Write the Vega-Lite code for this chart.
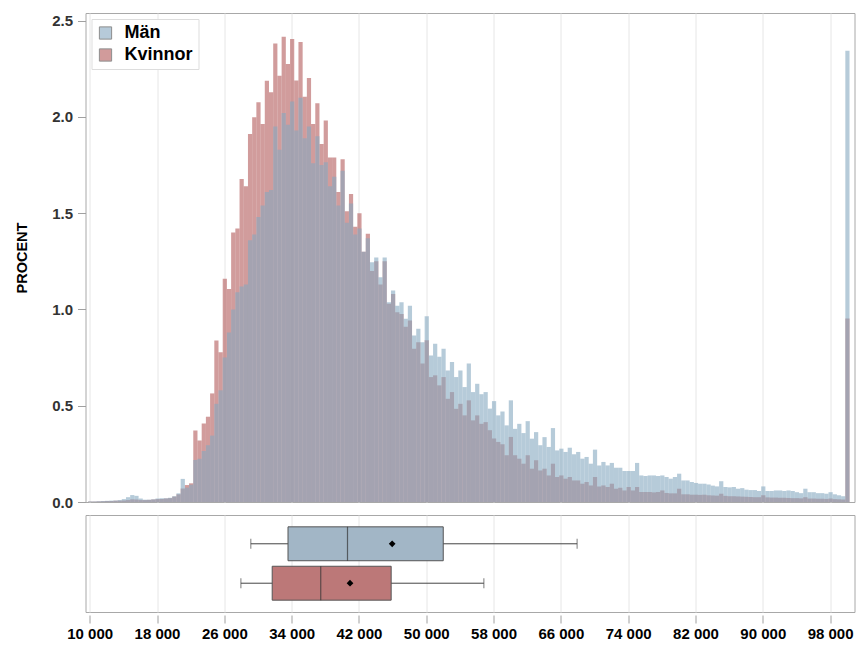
{
  "$schema": "https://vega.github.io/schema/vega-lite/v6.json",
  "padding": {"left": 13.5, "top": 12, "right": 2, "bottom": 2},
  "background": "white",
  "config": {
    "font": "Liberation Sans",
    "view": {"stroke": "#A8A8A8", "strokeWidth": 1},
    "axis": {"labelFont": "Liberation Sans", "labelFontWeight": "bold", "labelFontSize": 15, "labelColor": "#333333", "titleFont": "Liberation Sans", "titleFontWeight": "bold", "titleFontSize": 14.5, "titleColor": "#000000", "gridColor": "#E6E6E6", "tickColor": "#A0A0A0", "domainColor": "#A0A0A0"}
  },
  "spacing": 3,
  "vconcat": [
    {
      "width": 769,
      "height": 489,
      "data": {"values": [
        {"start": 9750, "Män": 0.003, "Kvinnor": 0.002},
        {"start": 10250, "Män": 0.003, "Kvinnor": 0.002},
        {"start": 10750, "Män": 0.004, "Kvinnor": 0.003},
        {"start": 11250, "Män": 0.005, "Kvinnor": 0.004},
        {"start": 11750, "Män": 0.006, "Kvinnor": 0.005},
        {"start": 12250, "Män": 0.007, "Kvinnor": 0.005},
        {"start": 12750, "Män": 0.008, "Kvinnor": 0.006},
        {"start": 13250, "Män": 0.010, "Kvinnor": 0.007},
        {"start": 13750, "Män": 0.015, "Kvinnor": 0.008},
        {"start": 14250, "Män": 0.025, "Kvinnor": 0.010},
        {"start": 14750, "Män": 0.036, "Kvinnor": 0.014},
        {"start": 15250, "Män": 0.032, "Kvinnor": 0.013},
        {"start": 15750, "Män": 0.018, "Kvinnor": 0.010},
        {"start": 16250, "Män": 0.012, "Kvinnor": 0.010},
        {"start": 16750, "Män": 0.012, "Kvinnor": 0.011},
        {"start": 17250, "Män": 0.014, "Kvinnor": 0.013},
        {"start": 17750, "Män": 0.018, "Kvinnor": 0.015},
        {"start": 18250, "Män": 0.020, "Kvinnor": 0.016},
        {"start": 18750, "Män": 0.020, "Kvinnor": 0.018},
        {"start": 19250, "Män": 0.022, "Kvinnor": 0.020},
        {"start": 19750, "Män": 0.030, "Kvinnor": 0.028},
        {"start": 20250, "Män": 0.045, "Kvinnor": 0.040},
        {"start": 20750, "Män": 0.120, "Kvinnor": 0.070},
        {"start": 21250, "Män": 0.075, "Kvinnor": 0.088},
        {"start": 21750, "Män": 0.090, "Kvinnor": 0.097},
        {"start": 22250, "Män": 0.218, "Kvinnor": 0.372},
        {"start": 22750, "Män": 0.225, "Kvinnor": 0.320},
        {"start": 23250, "Män": 0.265, "Kvinnor": 0.408},
        {"start": 23750, "Män": 0.295, "Kvinnor": 0.443},
        {"start": 24250, "Män": 0.345, "Kvinnor": 0.564},
        {"start": 24750, "Män": 0.510, "Kvinnor": 0.839},
        {"start": 25250, "Män": 0.580, "Kvinnor": 0.778},
        {"start": 25750, "Män": 0.750, "Kvinnor": 1.159},
        {"start": 26250, "Män": 0.880, "Kvinnor": 1.107},
        {"start": 26750, "Män": 1.000, "Kvinnor": 1.400},
        {"start": 27250, "Män": 1.090, "Kvinnor": 1.420},
        {"start": 27750, "Män": 1.120, "Kvinnor": 1.678},
        {"start": 28250, "Män": 1.130, "Kvinnor": 1.640},
        {"start": 28750, "Män": 1.360, "Kvinnor": 1.911},
        {"start": 29250, "Män": 1.390, "Kvinnor": 1.998},
        {"start": 29750, "Män": 1.480, "Kvinnor": 2.076},
        {"start": 30250, "Män": 1.540, "Kvinnor": 1.963},
        {"start": 30750, "Män": 1.610, "Kvinnor": 2.188},
        {"start": 31250, "Män": 1.620, "Kvinnor": 2.128},
        {"start": 31750, "Män": 1.950, "Kvinnor": 2.382},
        {"start": 32250, "Män": 1.830, "Kvinnor": 2.214},
        {"start": 32750, "Män": 2.020, "Kvinnor": 2.417},
        {"start": 33250, "Män": 1.960, "Kvinnor": 2.275},
        {"start": 33750, "Män": 2.080, "Kvinnor": 2.405},
        {"start": 34250, "Män": 1.930, "Kvinnor": 2.190},
        {"start": 34750, "Män": 2.100, "Kvinnor": 2.390},
        {"start": 35250, "Män": 1.890, "Kvinnor": 2.105},
        {"start": 35750, "Män": 1.950, "Kvinnor": 2.203},
        {"start": 36250, "Män": 1.760, "Kvinnor": 1.964},
        {"start": 36750, "Män": 1.900, "Kvinnor": 2.071},
        {"start": 37250, "Män": 1.750, "Kvinnor": 1.860},
        {"start": 37750, "Män": 1.765, "Kvinnor": 1.981},
        {"start": 38250, "Män": 1.640, "Kvinnor": 1.790},
        {"start": 38750, "Män": 1.690, "Kvinnor": 1.790},
        {"start": 39250, "Män": 1.540, "Kvinnor": 1.610},
        {"start": 39750, "Män": 1.720, "Kvinnor": 1.780},
        {"start": 40250, "Män": 1.450, "Kvinnor": 1.510},
        {"start": 40750, "Män": 1.550, "Kvinnor": 1.600},
        {"start": 41250, "Män": 1.390, "Kvinnor": 1.430},
        {"start": 41750, "Män": 1.420, "Kvinnor": 1.500},
        {"start": 42250, "Män": 1.300, "Kvinnor": 1.300},
        {"start": 42750, "Män": 1.370, "Kvinnor": 1.393},
        {"start": 43250, "Män": 1.245, "Kvinnor": 1.200},
        {"start": 43750, "Män": 1.270, "Kvinnor": 1.250},
        {"start": 44250, "Män": 1.168, "Kvinnor": 1.130},
        {"start": 44750, "Män": 1.270, "Kvinnor": 1.250},
        {"start": 45250, "Män": 1.038, "Kvinnor": 1.030},
        {"start": 45750, "Män": 1.099, "Kvinnor": 1.080},
        {"start": 46250, "Män": 1.020, "Kvinnor": 0.986},
        {"start": 46750, "Män": 1.038, "Kvinnor": 0.977},
        {"start": 47250, "Män": 0.952, "Kvinnor": 0.910},
        {"start": 47750, "Män": 1.020, "Kvinnor": 0.943},
        {"start": 48250, "Män": 0.865, "Kvinnor": 0.796},
        {"start": 48750, "Män": 0.900, "Kvinnor": 0.830},
        {"start": 49250, "Män": 0.830, "Kvinnor": 0.720},
        {"start": 49750, "Män": 0.965, "Kvinnor": 0.840},
        {"start": 50250, "Män": 0.761, "Kvinnor": 0.649},
        {"start": 50750, "Män": 0.822, "Kvinnor": 0.658},
        {"start": 51250, "Män": 0.754, "Kvinnor": 0.606},
        {"start": 51750, "Män": 0.796, "Kvinnor": 0.649},
        {"start": 52250, "Män": 0.683, "Kvinnor": 0.536},
        {"start": 52750, "Män": 0.727, "Kvinnor": 0.571},
        {"start": 53250, "Män": 0.649, "Kvinnor": 0.484},
        {"start": 53750, "Män": 0.683, "Kvinnor": 0.510},
        {"start": 54250, "Män": 0.597, "Kvinnor": 0.450},
        {"start": 54750, "Män": 0.720, "Kvinnor": 0.528},
        {"start": 55250, "Män": 0.571, "Kvinnor": 0.424},
        {"start": 55750, "Män": 0.614, "Kvinnor": 0.450},
        {"start": 56250, "Män": 0.560, "Kvinnor": 0.406},
        {"start": 56750, "Män": 0.571, "Kvinnor": 0.415},
        {"start": 57250, "Män": 0.485, "Kvinnor": 0.373},
        {"start": 57750, "Män": 0.524, "Kvinnor": 0.330},
        {"start": 58250, "Män": 0.450, "Kvinnor": 0.312},
        {"start": 58750, "Män": 0.470, "Kvinnor": 0.300},
        {"start": 59250, "Män": 0.398, "Kvinnor": 0.243},
        {"start": 59750, "Män": 0.528, "Kvinnor": 0.338},
        {"start": 60250, "Män": 0.380, "Kvinnor": 0.243},
        {"start": 60750, "Män": 0.406, "Kvinnor": 0.225},
        {"start": 61250, "Män": 0.358, "Kvinnor": 0.199},
        {"start": 61750, "Män": 0.420, "Kvinnor": 0.243},
        {"start": 62250, "Män": 0.329, "Kvinnor": 0.173},
        {"start": 62750, "Män": 0.363, "Kvinnor": 0.217},
        {"start": 63250, "Män": 0.295, "Kvinnor": 0.164},
        {"start": 63750, "Män": 0.337, "Kvinnor": 0.173},
        {"start": 64250, "Män": 0.286, "Kvinnor": 0.138},
        {"start": 64750, "Män": 0.384, "Kvinnor": 0.199},
        {"start": 65250, "Män": 0.268, "Kvinnor": 0.130},
        {"start": 65750, "Män": 0.277, "Kvinnor": 0.138},
        {"start": 66250, "Män": 0.260, "Kvinnor": 0.121},
        {"start": 66750, "Män": 0.282, "Kvinnor": 0.130},
        {"start": 67250, "Män": 0.248, "Kvinnor": 0.112},
        {"start": 67750, "Män": 0.260, "Kvinnor": 0.112},
        {"start": 68250, "Män": 0.225, "Kvinnor": 0.095},
        {"start": 68750, "Män": 0.234, "Kvinnor": 0.104},
        {"start": 69250, "Män": 0.199, "Kvinnor": 0.086},
        {"start": 69750, "Män": 0.272, "Kvinnor": 0.130},
        {"start": 70250, "Män": 0.190, "Kvinnor": 0.081},
        {"start": 70750, "Män": 0.208, "Kvinnor": 0.086},
        {"start": 71250, "Män": 0.190, "Kvinnor": 0.078},
        {"start": 71750, "Män": 0.203, "Kvinnor": 0.095},
        {"start": 72250, "Män": 0.178, "Kvinnor": 0.069},
        {"start": 72750, "Män": 0.178, "Kvinnor": 0.074},
        {"start": 73250, "Män": 0.161, "Kvinnor": 0.060},
        {"start": 73750, "Män": 0.161, "Kvinnor": 0.078},
        {"start": 74250, "Män": 0.161, "Kvinnor": 0.060},
        {"start": 74750, "Män": 0.203, "Kvinnor": 0.078},
        {"start": 75250, "Män": 0.138, "Kvinnor": 0.052},
        {"start": 75750, "Män": 0.135, "Kvinnor": 0.052},
        {"start": 76250, "Män": 0.138, "Kvinnor": 0.052},
        {"start": 76750, "Män": 0.138, "Kvinnor": 0.050},
        {"start": 77250, "Män": 0.135, "Kvinnor": 0.052},
        {"start": 77750, "Män": 0.138, "Kvinnor": 0.060},
        {"start": 78250, "Män": 0.130, "Kvinnor": 0.047},
        {"start": 78750, "Män": 0.121, "Kvinnor": 0.045},
        {"start": 79250, "Män": 0.130, "Kvinnor": 0.045},
        {"start": 79750, "Män": 0.147, "Kvinnor": 0.069},
        {"start": 80250, "Män": 0.112, "Kvinnor": 0.040},
        {"start": 80750, "Män": 0.112, "Kvinnor": 0.040},
        {"start": 81250, "Män": 0.104, "Kvinnor": 0.038},
        {"start": 81750, "Män": 0.099, "Kvinnor": 0.038},
        {"start": 82250, "Män": 0.095, "Kvinnor": 0.037},
        {"start": 82750, "Män": 0.095, "Kvinnor": 0.038},
        {"start": 83250, "Män": 0.091, "Kvinnor": 0.035},
        {"start": 83750, "Män": 0.085, "Kvinnor": 0.034},
        {"start": 84250, "Män": 0.081, "Kvinnor": 0.033},
        {"start": 84750, "Män": 0.108, "Kvinnor": 0.043},
        {"start": 85250, "Män": 0.078, "Kvinnor": 0.032},
        {"start": 85750, "Män": 0.076, "Kvinnor": 0.030},
        {"start": 86250, "Män": 0.078, "Kvinnor": 0.030},
        {"start": 86750, "Män": 0.069, "Kvinnor": 0.029},
        {"start": 87250, "Män": 0.072, "Kvinnor": 0.028},
        {"start": 87750, "Män": 0.064, "Kvinnor": 0.027},
        {"start": 88250, "Män": 0.062, "Kvinnor": 0.026},
        {"start": 88750, "Män": 0.062, "Kvinnor": 0.025},
        {"start": 89250, "Män": 0.057, "Kvinnor": 0.025},
        {"start": 89750, "Män": 0.081, "Kvinnor": 0.035},
        {"start": 90250, "Män": 0.057, "Kvinnor": 0.024},
        {"start": 90750, "Män": 0.057, "Kvinnor": 0.023},
        {"start": 91250, "Män": 0.060, "Kvinnor": 0.023},
        {"start": 91750, "Män": 0.060, "Kvinnor": 0.022},
        {"start": 92250, "Män": 0.057, "Kvinnor": 0.022},
        {"start": 92750, "Män": 0.060, "Kvinnor": 0.021},
        {"start": 93250, "Män": 0.057, "Kvinnor": 0.020},
        {"start": 93750, "Män": 0.051, "Kvinnor": 0.020},
        {"start": 94250, "Män": 0.046, "Kvinnor": 0.019},
        {"start": 94750, "Män": 0.069, "Kvinnor": 0.025},
        {"start": 95250, "Män": 0.051, "Kvinnor": 0.018},
        {"start": 95750, "Män": 0.051, "Kvinnor": 0.018},
        {"start": 96250, "Män": 0.046, "Kvinnor": 0.017},
        {"start": 96750, "Män": 0.046, "Kvinnor": 0.017},
        {"start": 97250, "Män": 0.043, "Kvinnor": 0.016},
        {"start": 97750, "Män": 0.051, "Kvinnor": 0.018},
        {"start": 98250, "Män": 0.040, "Kvinnor": 0.015},
        {"start": 98750, "Män": 0.035, "Kvinnor": 0.014},
        {"start": 99250, "Män": 0.030, "Kvinnor": 0.013},
        {"start": 99750, "Män": 2.344, "Kvinnor": 0.953}
      ]},
      "encoding": {
        "x": {
          "field": "start", "type": "quantitative", "bin": {"binned": true, "step": 500},
          "scale": {"domain": [9500, 100900], "nice": false, "zero": false},
          "axis": {"values": [10000, 18000, 26000, 34000, 42000, 50000, 58000, 66000, 74000, 82000, 90000, 98000], "labels": false, "ticks": false, "domain": false, "title": null, "grid": true, "labelPadding": 0, "tickSize": 0}
        }
      },
      "layer": [
        {
          "mark": {"type": "bar", "opacity": 0.6, "binSpacing": 0},
          "encoding": {
            "y": {"field": "Kvinnor", "type": "quantitative", "scale": {"domain": [0, 2.54], "nice": false},
              "axis": {"title": "PROCENT", "values": [0, 0.5, 1, 1.5, 2, 2.5], "format": ".1f", "grid": false, "tickSize": 8, "labelPadding": 5, "titlePadding": 22, "domain": false}},
            "color": {"datum": "Kvinnor", "type": "nominal",
              "scale": {"domain": ["Män", "Kvinnor"], "range": ["#86A8C0", "#B35A5A"]},
              "legend": {"title": null, "orient": "none", "legendX": 6, "legendY": 6, "fillColor": "white", "strokeColor": "#DDDDDD", "padding": 5, "symbolType": "square", "symbolSize": 150, "symbolOpacity": 0.6, "symbolStrokeColor": "#444444", "symbolStrokeWidth": 1, "labelFontSize": 18, "labelFontWeight": "bold", "labelColor": "#000000", "labelFont": "Liberation Sans", "rowPadding": 4, "labelOffset": 10}}
          }
        },
        {
          "mark": {"type": "bar", "opacity": 0.6, "binSpacing": 0},
          "encoding": {
            "y": {"field": "Män", "type": "quantitative"},
            "color": {"datum": "Män", "type": "nominal"}
          }
        }
      ]
    },
    {
      "width": 769,
      "height": 97,
      "data": {"values": [
        {"Kön": "Män", "min": 29150, "q1": 33570, "median": 40640, "q3": 52020, "max": 67930, "medel": 45950},
        {"Kön": "Kvinnor", "min": 27970, "q1": 31690, "median": 37460, "q3": 45830, "max": 56850, "medel": 40940}
      ]},
      "encoding": {
        "y": {"field": "Kön", "type": "nominal", "sort": ["Män", "Kvinnor"], "scale": {"paddingInner": 0.14, "paddingOuter": 0.3}, "axis": null}
      },
      "layer": [
        {
          "mark": {"type": "rule", "color": "#444444", "strokeWidth": 1},
          "encoding": {
            "x": {"field": "min", "type": "quantitative", "scale": {"domain": [9500, 100900], "nice": false, "zero": false},
              "axis": {"values": [10000, 18000, 26000, 34000, 42000, 50000, 58000, 66000, 74000, 82000, 90000, 98000], "labelExpr": "replace(format(datum.value, ','), ',', ' ')", "title": null, "grid": true, "domain": false, "tickSize": 8, "offset": 3, "labelPadding": 3, "labelFontSize": 15, "labelColor": "#000000"}},
            "x2": {"field": "max"}
          }
        },
        {
          "mark": {"type": "tick", "color": "#444444", "size": 10, "thickness": 1},
          "encoding": {"x": {"field": "min", "type": "quantitative"}}
        },
        {
          "mark": {"type": "tick", "color": "#444444", "size": 10, "thickness": 1},
          "encoding": {"x": {"field": "max", "type": "quantitative"}}
        },
        {
          "mark": {"type": "bar", "stroke": "#555555", "strokeWidth": 1},
          "encoding": {
            "x": {"field": "q1", "type": "quantitative"},
            "x2": {"field": "q3"},
            "fill": {"field": "Kön", "type": "nominal", "scale": {"domain": ["Män", "Kvinnor"], "range": ["#A2B6C6", "#BC7878"]}, "legend": null}
          }
        },
        {
          "mark": {"type": "tick", "color": "#333333", "thickness": 1.2, "size": 34},
          "encoding": {"x": {"field": "median", "type": "quantitative"}}
        },
        {
          "mark": {"type": "point", "shape": "diamond", "filled": true, "color": "#000000", "size": 45, "opacity": 1},
          "encoding": {"x": {"field": "medel", "type": "quantitative"}}
        }
      ]
    }
  ]
}
